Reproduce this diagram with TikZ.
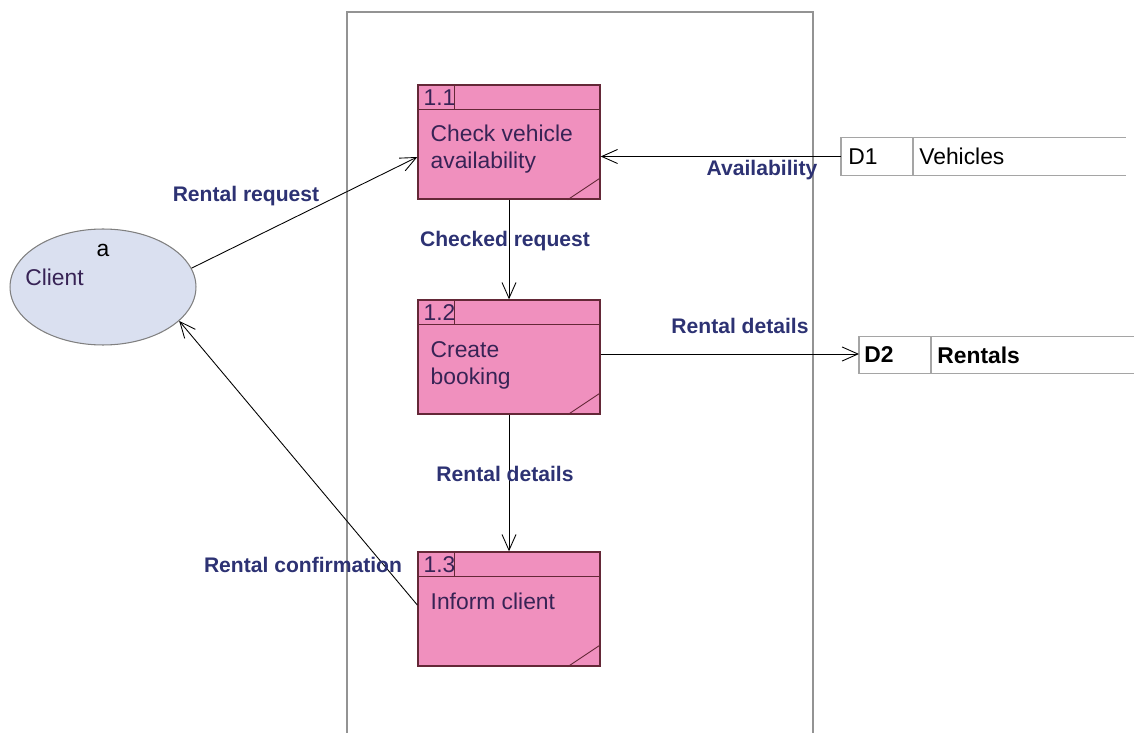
\documentclass[tikz,border=0pt]{standalone}
\usepackage{fontspec}
\setmainfont{Liberation Sans}
\usetikzlibrary{arrows.meta,shapes.geometric,calc}
\definecolor{procfill}{RGB}{240,144,190}
\definecolor{procline}{RGB}{100,40,55}
\definecolor{clientfill}{RGB}{218,224,240}
\definecolor{labelcol}{RGB}{45,50,115}
\definecolor{boxtext}{RGB}{55,35,85}
\definecolor{storeline}{RGB}{165,165,165}
\tikzset{
  proc/.style={draw=procline, fill=procfill, line width=0.8pt, minimum width=3.64cm, minimum height=2.28cm, inner sep=0pt},
  flow/.style={draw=black, line width=0.5pt, -{Straight Barb[length=9pt,width=8pt]}},
  flowlabel/.style={text=labelcol, font=\fontsize{12}{14}\selectfont\bfseries},
  ptext/.style={text=boxtext, font=\fontsize{13}{15.5}\selectfont, anchor=north west, align=left, inner sep=0pt},
  pnum/.style={text=boxtext, font=\fontsize{13}{15}\selectfont, inner sep=0pt},
  store/.style={minimum width=5.68cm, minimum height=0.74cm, inner sep=0pt, anchor=west},
  stext/.style={font=\fontsize{13}{15}\selectfont, inner sep=0pt, anchor=west}
}
\begin{document}
\begin{tikzpicture}[x=0.02cm,y=-0.02cm]
\useasboundingbox (0,0) rectangle (1134,733);
% system boundary
\draw[draw=gray!85, line width=0.6pt] (347,733) -- (347,12) -- (813,12) -- (813,733);

% processes
\foreach \n/\cy/\num in {p1/142/1.1, p2/357/1.2, p3/609/1.3}{
  \node[proc] (\n) at (509,\cy) {};
  \draw[procline, line width=0.8pt] ($(\n.north west)+(0,25)$) -- ($(\n.north east)+(0,25)$);
  \draw[procline, line width=0.8pt] ($(\n.north west)+(37,0)$) -- ($(\n.north west)+(37,25)$);
  \draw[procline, line width=0.5pt] ($(\n.south east)+(-33,0)$) -- ($(\n.south east)+(0,-22)$);
  \node[pnum, anchor=west] at ($(\n.north west)+(6,13)$) {\num};
}
\node[ptext] (t1) at ($(p1.north west)+(13,40)$) {Check vehicle\\availability};
\node[ptext] (t2) at ($(p2.north west)+(13,42)$) {Create\\booking};
\node[ptext] (t3) at ($(p3.north west)+(13,41)$) {Inform client};

% client
\node[ellipse, draw=gray, fill=clientfill, line width=0.6pt, minimum width=3.72cm, minimum height=2.32cm, inner sep=0pt] (client) at (103,287) {};
\node[font=\fontsize{13}{15}\selectfont, inner sep=0pt] (ca) at (103,250) {a};
\node[font=\fontsize{13}{15}\selectfont, text=boxtext, inner sep=0pt, anchor=west] (cn) at (25,277) {Client};

% stores
\node[store] (d1) at (841,156.5) {};
\draw[storeline, line width=0.7pt] (d1.north east) -- (d1.north west) -- (d1.south west) -- (d1.south east);
\draw[storeline, line width=0.7pt] ($(d1.north west)+(72,0)$) -- ($(d1.south west)+(72,0)$);
\node[stext] (d1n) at ($(d1.west)+(7,0)$) {D1};
\node[stext] (d1t) at ($(d1.west)+(78,0)$) {Vehicles};

\node[store, minimum width=5.5cm] (d2) at (859,355) {};
\draw[storeline, line width=0.7pt] (d2.north east) -- (d2.north west) -- (d2.south west) -- (d2.south east);
\draw[storeline, line width=0.7pt] ($(d2.north west)+(72,0)$) -- ($(d2.south west)+(72,0)$);
\node[stext, font=\fontsize{13}{15}\selectfont\bfseries] (d2n) at ($(d2.west)+(5,0)$) {D2};
\node[stext, font=\fontsize{13}{15}\selectfont\bfseries] (d2t) at ($(d2.west)+(78,0)$) {Rentals};

% flows
\draw[flow] (client.12) -- ($(p1.west)+(0,15)$);
\draw[flow] (d1.west) -- (p1.east |- d1.west);
\draw[flow] (p1.south) -- (p2.north);
\draw[flow] ($(p2.east)+(0,-3)$) -- ($(d2.west)+(0,-1)$);
\draw[flow] (p2.south) -- (p3.north);
\draw[flow] ($(p3.west)+(0,-4)$) -- (client.-24);

% labels
\node[flowlabel] (l1) at (246,196) {Rental request};
\node[flowlabel] (l2) at (762,170) {Availability};
\node[flowlabel] (l3) at (505,241) {Checked request};
\node[flowlabel] (l4) at (740,326) {Rental details};
\node[flowlabel] (l5) at (505,474) {Rental details};
\node[flowlabel] (l6) at (303,565) {Rental confirmation};
\end{tikzpicture}
\end{document}
